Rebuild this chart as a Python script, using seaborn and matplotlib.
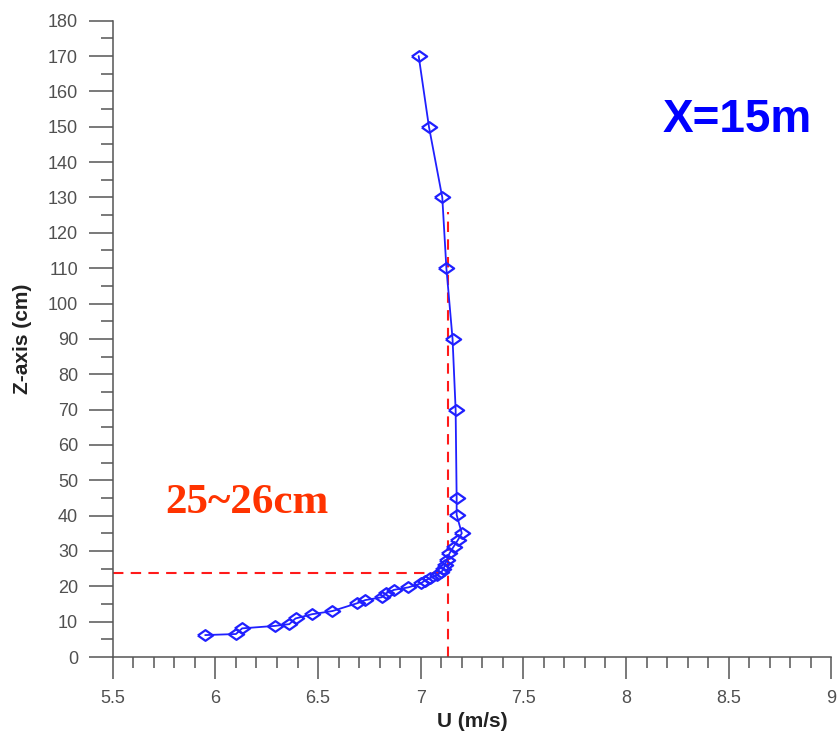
import numpy as np
import pandas as pd
import matplotlib
matplotlib.use("Agg")
import matplotlib.pyplot as plt
import seaborn as sns

# ---- data ----
U = [5.95, 6.10, 6.13, 6.29, 6.36, 6.39, 6.47, 6.57, 6.69, 6.73, 6.81, 6.83,
     6.87, 6.94, 7.00, 7.02, 7.045, 7.08, 7.10, 7.11, 7.118, 7.126, 7.14,
     7.16, 7.18, 7.20, 7.175, 7.175, 7.17, 7.155, 7.125, 7.105, 7.04, 6.99]
Z = [6.2, 6.5, 8.1, 8.8, 9.3, 10.9, 12.1, 13.0, 15.2, 16.1, 16.9, 18.0,
     19.0, 19.7, 20.8, 21.6, 22.3, 23.2, 24.0, 24.8, 26.0, 27.4, 29.3,
     31.2, 33.0, 35.0, 40.2, 44.9, 70, 90, 110, 130, 150, 170]

REF_U = 7.134        # vertical reference line position
REF_Z = 23.7         # horizontal reference line position
REF_TOP = 126        # top of vertical reference line

X_TICKS = [5.5, 6, 6.5, 7, 7.5, 8, 8.5, 9]
X_TICK_LABELS = ["5.5", "6", "6.5", "7", "7.5", "8", "8.5", "9"]
Y_TICKS = list(range(0, 181, 10))

ANNOT_RANGE = "25~26cm"
ANNOT_X = "X=15m"

df = pd.DataFrame({"U": U, "Z": Z})

sns.set_style("ticks")
plt.rcParams["font.family"] = ["Liberation Sans", "DejaVu Sans"]

W, H = 838, 736
fig = plt.figure(figsize=(W / 100, H / 100), dpi=100)
ax = fig.add_axes([112.8 / W, 1 - 657 / H, 718.5 / W, 636.3 / H])

diamond = [(-1, 0), (0, 0.7), (1, 0), (0, -0.7), (-1, 0)]
sns.lineplot(data=df, x="U", y="Z", sort=False, estimator=None, ax=ax,
             color="#2020ff", lw=1.3, marker=diamond, markersize=11,
             markerfacecolor="none", markeredgecolor="#2020ff",
             markeredgewidth=1.6, zorder=3)

# red dashed reference lines
ax.plot([X_TICKS[0], REF_U], [REF_Z, REF_Z], color="#ff1a1a", lw=1.5,
        ls=(0, (5, 3.5)), zorder=2)
ax.plot([REF_U, REF_U], [0, REF_TOP], color="#ff1a1a", lw=1.5,
        ls=(0, (5, 3.5)), zorder=2)

ax.set_xlim(5.5, 9)
ax.set_ylim(0, 180)
ax.set_xticks(X_TICKS)
ax.set_xticklabels(X_TICK_LABELS)
ax.set_yticks(Y_TICKS)
ax.set_xticks(np.arange(5.5, 9.001, 0.1), minor=True)
ax.set_yticks(np.arange(0, 181, 5), minor=True)

for s in ["top", "right"]:
    ax.spines[s].set_visible(False)
for s in ["left", "bottom"]:
    ax.spines[s].set_color("#555555")
    ax.spines[s].set_linewidth(1.1)

ax.tick_params(axis="y", which="major", length=17, width=1.1, color="#555555",
               labelsize=13, labelcolor="#505050", pad=8)
ax.tick_params(axis="y", which="minor", length=8.5, width=1.1, color="#555555")
ax.tick_params(axis="x", which="major", length=16, width=1.1, color="#555555",
               labelsize=13, labelcolor="#505050", pad=8)
ax.tick_params(axis="x", which="minor", length=8, width=1.1, color="#555555")

ax.set_xlabel("U (m/s)", fontsize=15, fontweight="bold", color="#222222")
ax.set_ylabel("Z-axis (cm)", fontsize=15, fontweight="bold", color="#222222")
ax.xaxis.label.set_va("center")
ax.yaxis.label.set_va("center")
ax.xaxis.set_label_coords(0.501, -0.102)
ax.yaxis.set_label_coords(-0.126, 0.5)

ax.text(5.754, 40.7, ANNOT_RANGE, color="#ff3300", fontsize=31,
        fontweight="bold", family=["Liberation Serif", "DejaVu Serif"],
        ha="left", va="baseline")
ax.text(8.18, 148.5, ANNOT_X, color="#0000ff", fontsize=33,
        fontweight="bold", ha="left", va="baseline")

fig.savefig("out.png", dpi=100, facecolor="white")
